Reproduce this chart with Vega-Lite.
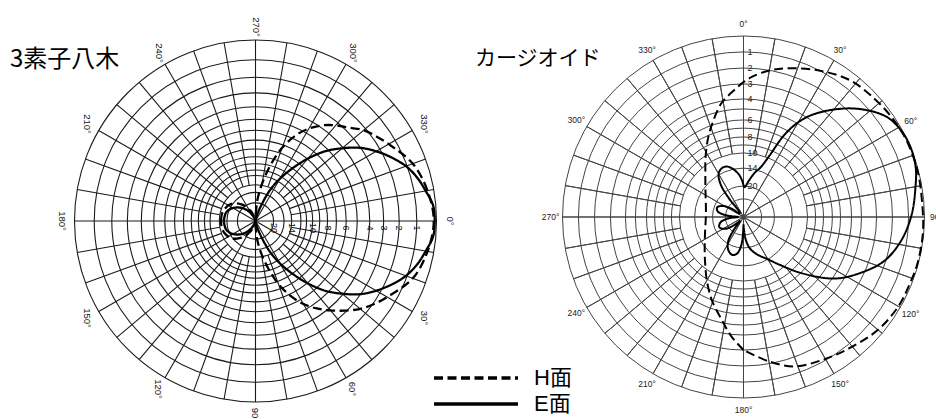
{
  "$schema": "https://vega.github.io/schema/vega-lite/v6.json",
  "padding": 0,
  "spacing": 0,
  "bounds": "flush",
  "background": "white",
  "config": {"view": {"stroke": null}},
  "datasets": {
    "ringsL": [{"r":1},{"r":0.891},{"r":0.794},{"r":0.708},{"r":0.631},{"r":0.562},{"r":0.501},{"r":0.447},{"r":0.398},{"r":0.355},{"r":0.316},{"r":0.282},{"r":0.251},{"r":0.2},{"r":0.158},{"r":0.1}],
    "ringsR": [{"r":1},{"r":0.912},{"r":0.823},{"r":0.735},{"r":0.652},{"r":0.597},{"r":0.536},{"r":0.491},{"r":0.442},{"r":0.398},{"r":0.354},{"r":0.27},{"r":0.171},{"r":0.1}],
    "dbL": [{"r":0.891,"label":"1"},{"r":0.794,"label":"2"},{"r":0.708,"label":"3"},{"r":0.631,"label":"4"},{"r":0.501,"label":"6"},{"r":0.398,"label":"8"},{"r":0.316,"label":"10"},{"r":0.2,"label":"14"},{"r":0.1,"label":"20"}],
    "dbR": [{"r":0.912,"label":"1"},{"r":0.823,"label":"2"},{"r":0.735,"label":"3"},{"r":0.652,"label":"4"},{"r":0.536,"label":"6"},{"r":0.442,"label":"8"},{"r":0.354,"label":"10"},{"r":0.27,"label":"14"},{"r":0.171,"label":"20"}],
    "spokesMajor": [{"ang":0},{"ang":30},{"ang":60},{"ang":90},{"ang":120},{"ang":150},{"ang":180},{"ang":210},{"ang":240},{"ang":270},{"ang":300},{"ang":330}],
    "spokesMinor": [{"ang":10},{"ang":20},{"ang":40},{"ang":50},{"ang":70},{"ang":80},{"ang":100},{"ang":110},{"ang":130},{"ang":140},{"ang":160},{"ang":170},{"ang":190},{"ang":200},{"ang":220},{"ang":230},{"ang":250},{"ang":260},{"ang":280},{"ang":290},{"ang":310},{"ang":320},{"ang":340},{"ang":350}],
    "angLabels": [{"ang":0,"label":"0°"},{"ang":30,"label":"30°"},{"ang":60,"label":"60°"},{"ang":90,"label":"90°"},{"ang":120,"label":"120°"},{"ang":150,"label":"150°"},{"ang":180,"label":"180°"},{"ang":210,"label":"210°"},{"ang":240,"label":"240°"},{"ang":270,"label":"270°"},{"ang":300,"label":"300°"},{"ang":330,"label":"330°"}],
    "patL": [
      {"plane":"E面","ang":-180,"r":0.175},{"plane":"E面","ang":-165,"r":0.17},{"plane":"E面","ang":-155,"r":0.155},{"plane":"E面","ang":-145,"r":0.13},{"plane":"E面","ang":-135,"r":0.1},{"plane":"E面","ang":-125,"r":0.065},{"plane":"E面","ang":-115,"r":0.03},{"plane":"E面","ang":-105,"r":0.01},{"plane":"E面","ang":-90,"r":0.0},{"plane":"E面","ang":-80,"r":0.01},{"plane":"E面","ang":-75,"r":0.035},{"plane":"E面","ang":-70,"r":0.09},{"plane":"E面","ang":-65,"r":0.185},{"plane":"E面","ang":-60,"r":0.27},{"plane":"E面","ang":-55,"r":0.355},{"plane":"E面","ang":-50,"r":0.45},{"plane":"E面","ang":-45,"r":0.545},{"plane":"E面","ang":-40,"r":0.625},{"plane":"E面","ang":-35,"r":0.705},{"plane":"E面","ang":-30,"r":0.77},{"plane":"E面","ang":-25,"r":0.83},{"plane":"E面","ang":-20,"r":0.885},{"plane":"E面","ang":-15,"r":0.925},{"plane":"E面","ang":-10,"r":0.955},{"plane":"E面","ang":-5,"r":0.985},{"plane":"E面","ang":0,"r":0.99},{"plane":"E面","ang":5,"r":0.985},{"plane":"E面","ang":10,"r":0.955},{"plane":"E面","ang":15,"r":0.925},{"plane":"E面","ang":20,"r":0.885},{"plane":"E面","ang":25,"r":0.83},{"plane":"E面","ang":30,"r":0.77},{"plane":"E面","ang":35,"r":0.705},{"plane":"E面","ang":40,"r":0.625},{"plane":"E面","ang":45,"r":0.545},{"plane":"E面","ang":50,"r":0.45},{"plane":"E面","ang":55,"r":0.355},{"plane":"E面","ang":60,"r":0.27},{"plane":"E面","ang":65,"r":0.185},{"plane":"E面","ang":70,"r":0.09},{"plane":"E面","ang":75,"r":0.035},{"plane":"E面","ang":80,"r":0.01},{"plane":"E面","ang":90,"r":0.0},{"plane":"E面","ang":105,"r":0.01},{"plane":"E面","ang":115,"r":0.03},{"plane":"E面","ang":125,"r":0.065},{"plane":"E面","ang":135,"r":0.1},{"plane":"E面","ang":145,"r":0.13},{"plane":"E面","ang":155,"r":0.155},{"plane":"E面","ang":165,"r":0.17},{"plane":"E面","ang":180,"r":0.175},
      {"plane":"H面","ang":-180,"r":0.19},{"plane":"H面","ang":-170,"r":0.19},{"plane":"H面","ang":-160,"r":0.185},{"plane":"H面","ang":-145,"r":0.165},{"plane":"H面","ang":-130,"r":0.12},{"plane":"H面","ang":-115,"r":0.06},{"plane":"H面","ang":-100,"r":0.02},{"plane":"H面","ang":-90,"r":0.03},{"plane":"H面","ang":-85,"r":0.115},{"plane":"H面","ang":-80,"r":0.21},{"plane":"H面","ang":-75,"r":0.32},{"plane":"H面","ang":-70,"r":0.43},{"plane":"H面","ang":-65,"r":0.52},{"plane":"H面","ang":-60,"r":0.59},{"plane":"H面","ang":-55,"r":0.645},{"plane":"H面","ang":-50,"r":0.69},{"plane":"H面","ang":-45,"r":0.73},{"plane":"H面","ang":-40,"r":0.78},{"plane":"H面","ang":-35,"r":0.815},{"plane":"H面","ang":-30,"r":0.85},{"plane":"H面","ang":-20,"r":0.925},{"plane":"H面","ang":-10,"r":0.965},{"plane":"H面","ang":0,"r":0.985},{"plane":"H面","ang":10,"r":0.965},{"plane":"H面","ang":20,"r":0.925},{"plane":"H面","ang":30,"r":0.84},{"plane":"H面","ang":35,"r":0.8},{"plane":"H面","ang":40,"r":0.755},{"plane":"H面","ang":45,"r":0.7},{"plane":"H面","ang":50,"r":0.645},{"plane":"H面","ang":55,"r":0.59},{"plane":"H面","ang":60,"r":0.53},{"plane":"H面","ang":65,"r":0.455},{"plane":"H面","ang":70,"r":0.37},{"plane":"H面","ang":75,"r":0.27},{"plane":"H面","ang":80,"r":0.18},{"plane":"H面","ang":85,"r":0.1},{"plane":"H面","ang":90,"r":0.03},{"plane":"H面","ang":100,"r":0.02},{"plane":"H面","ang":115,"r":0.06},{"plane":"H面","ang":130,"r":0.12},{"plane":"H面","ang":145,"r":0.165},{"plane":"H面","ang":160,"r":0.185},{"plane":"H面","ang":170,"r":0.19},{"plane":"H面","ang":180,"r":0.19}
    ],
    "patR": [
      {"plane":"E面","ang":-180,"r":0.04},{"plane":"E面","ang":-176,"r":0.15},{"plane":"E面","ang":-170,"r":0.205},{"plane":"E面","ang":-163,"r":0.218},{"plane":"E面","ang":-155,"r":0.2},{"plane":"E面","ang":-148,"r":0.16},{"plane":"E面","ang":-143,"r":0.09},{"plane":"E面","ang":-139,"r":0.03},{"plane":"E面","ang":-132,"r":0.06},{"plane":"E面","ang":-123,"r":0.12},{"plane":"E面","ang":-113,"r":0.145},{"plane":"E面","ang":-103,"r":0.13},{"plane":"E面","ang":-95,"r":0.08},{"plane":"E面","ang":-90,"r":0.03},{"plane":"E面","ang":-85,"r":0.09},{"plane":"E面","ang":-78,"r":0.145},{"plane":"E面","ang":-70,"r":0.155},{"plane":"E面","ang":-62,"r":0.13},{"plane":"E面","ang":-55,"r":0.08},{"plane":"E面","ang":-48,"r":0.03},{"plane":"E面","ang":-41,"r":0.03},{"plane":"E面","ang":-38,"r":0.13},{"plane":"E面","ang":-35,"r":0.22},{"plane":"E面","ang":-30,"r":0.275},{"plane":"E面","ang":-24,"r":0.295},{"plane":"E面","ang":-18,"r":0.293},{"plane":"E面","ang":-12,"r":0.27},{"plane":"E面","ang":-6,"r":0.235},{"plane":"E面","ang":-2,"r":0.2},{"plane":"E面","ang":2,"r":0.165},{"plane":"E面","ang":8,"r":0.2},{"plane":"E面","ang":14,"r":0.25},{"plane":"E面","ang":19,"r":0.29},{"plane":"E面","ang":23,"r":0.37},{"plane":"E面","ang":26,"r":0.49},{"plane":"E面","ang":29,"r":0.58},{"plane":"E面","ang":33,"r":0.665},{"plane":"E面","ang":40,"r":0.775},{"plane":"E面","ang":47,"r":0.875},{"plane":"E面","ang":55,"r":0.965},{"plane":"E面","ang":62,"r":0.995},{"plane":"E面","ang":68,"r":1.0},{"plane":"E面","ang":74,"r":0.99},{"plane":"E面","ang":80,"r":0.965},{"plane":"E面","ang":89,"r":0.93},{"plane":"E面","ang":98,"r":0.884},{"plane":"E面","ang":107,"r":0.818},{"plane":"E面","ang":115,"r":0.723},{"plane":"E面","ang":124,"r":0.608},{"plane":"E面","ang":134,"r":0.447},{"plane":"E面","ang":143,"r":0.33},{"plane":"E面","ang":150,"r":0.27},{"plane":"E面","ang":160,"r":0.22},{"plane":"E面","ang":168,"r":0.18},{"plane":"E面","ang":174,"r":0.13},{"plane":"E面","ang":178,"r":0.07},{"plane":"E面","ang":180,"r":0.04},
      {"plane":"H面","ang":-180,"r":0.735},{"plane":"H面","ang":-174,"r":0.66},{"plane":"H面","ang":-168,"r":0.58},{"plane":"H面","ang":-159,"r":0.49},{"plane":"H面","ang":-150,"r":0.405},{"plane":"H面","ang":-140,"r":0.33},{"plane":"H面","ang":-130,"r":0.28},{"plane":"H面","ang":-115,"r":0.235},{"plane":"H面","ang":-100,"r":0.213},{"plane":"H面","ang":-90,"r":0.208},{"plane":"H面","ang":-75,"r":0.215},{"plane":"H面","ang":-60,"r":0.242},{"plane":"H面","ang":-51,"r":0.271},{"plane":"H面","ang":-42,"r":0.315},{"plane":"H面","ang":-32,"r":0.395},{"plane":"H面","ang":-24,"r":0.48},{"plane":"H面","ang":-18,"r":0.55},{"plane":"H面","ang":-11,"r":0.64},{"plane":"H面","ang":-4,"r":0.705},{"plane":"H面","ang":0,"r":0.745},{"plane":"H面","ang":4,"r":0.78},{"plane":"H面","ang":10,"r":0.822},{"plane":"H面","ang":17,"r":0.86},{"plane":"H面","ang":28,"r":0.914},{"plane":"H面","ang":38,"r":0.958},{"plane":"H面","ang":48,"r":0.975},{"plane":"H面","ang":57,"r":0.988},{"plane":"H面","ang":65,"r":0.995},{"plane":"H面","ang":75,"r":0.995},{"plane":"H面","ang":85,"r":0.99},{"plane":"H面","ang":95,"r":0.995},{"plane":"H面","ang":105,"r":0.995},{"plane":"H面","ang":112,"r":0.99},{"plane":"H面","ang":120,"r":0.988},{"plane":"H面","ang":130,"r":0.97},{"plane":"H面","ang":140,"r":0.935},{"plane":"H面","ang":150,"r":0.905},{"plane":"H面","ang":161,"r":0.873},{"plane":"H面","ang":170,"r":0.81},{"plane":"H面","ang":180,"r":0.735}
    ]
  },
  "hconcat": [
    {
      "width": 511,
      "height": 442,
      "title": {"text": "3素子八木", "anchor": "start", "frame": "group", "orient": "top", "offset": -65, "dx": 10, "dy": 26, "baseline": "alphabetic", "font": "Noto Sans CJK JP", "fontSize": 24, "fontWeight": "normal", "color": "black"},
      "layer": [
        {
          "data": {"name": "ringsL"},
          "mark": {"type": "arc", "fill": null, "stroke": "#1a1a1a", "strokeWidth": 1.1},
          "encoding": {
            "theta": {"datum": 0, "type": "quantitative", "scale": {"domain": [0, 360], "range": [1.5708, 7.854]}},
            "theta2": {"datum": 360},
            "radius": {"field": "r", "type": "quantitative", "stack": null, "scale": {"type": "linear", "domain": [0, 1], "range": [0, 181], "zero": true}}
          }
        },
        {
          "data": {"name": "spokesMajor"},
          "mark": {"type": "arc", "fill": null, "stroke": "#1a1a1a", "strokeWidth": 1.1},
          "encoding": {
            "theta": {"field": "ang", "type": "quantitative", "stack": null},
            "theta2": {"field": "ang"},
            "radius": {"datum": 1, "type": "quantitative"},
            "radius2": {"datum": 0}
          }
        },
        {
          "data": {"name": "spokesMinor"},
          "mark": {"type": "arc", "fill": null, "stroke": "#1a1a1a", "strokeWidth": 1.1},
          "encoding": {
            "theta": {"field": "ang", "type": "quantitative", "stack": null},
            "theta2": {"field": "ang"},
            "radius": {"datum": 1, "type": "quantitative"},
            "radius2": {"datum": 0.2}
          }
        },
        {
          "data": {"name": "dbL"},
          "mark": {"type": "text", "angle": 90, "align": "center", "baseline": "middle", "dx": 7, "font": "Liberation Sans Narrow, Liberation Sans", "fontSize": 9, "color": "#111"},
          "encoding": {
            "theta": {"datum": 0, "type": "quantitative"},
            "radius": {"field": "r", "type": "quantitative", "stack": null},
            "text": {"field": "label"}
          }
        },
        {
          "data": {"name": "angLabels"},
          "mark": {"type": "text", "angle": 90, "align": "center", "baseline": "middle", "radiusOffset": 13, "font": "Liberation Sans Narrow, Liberation Sans", "fontSize": 9.5, "color": "#111"},
          "encoding": {
            "theta": {"field": "ang", "type": "quantitative", "stack": null},
            "radius": {"datum": 1, "type": "quantitative"},
            "text": {"field": "label"}
          }
        },
        {
          "data": {"name": "patL"},
          "transform": [
            {"calculate": "datum.r*cos(datum.ang*PI/180)", "as": "px"},
            {"calculate": "-datum.r*sin(datum.ang*PI/180)", "as": "py"}
          ],
          "mark": {"type": "line", "interpolate": "catmull-rom", "color": "black", "strokeWidth": 2.3},
          "encoding": {
            "x": {"field": "px", "type": "quantitative", "scale": {"domain": [-1.4116, 1.4116], "nice": false, "zero": false}, "axis": null},
            "y": {"field": "py", "type": "quantitative", "scale": {"domain": [-1.221, 1.221], "nice": false, "zero": false}, "axis": null},
            "order": {"field": "ang", "type": "quantitative"},
            "strokeDash": {
              "field": "plane", "type": "nominal",
              "scale": {"domain": ["H面", "E面"], "range": [[9, 4.5], [1, 0]]},
              "legend": {"title": null, "orient": "none", "legendX": 465, "legendY": 367, "symbolType": "M-6,0H6", "symbolSize": 196, "symbolStrokeWidth": 3.5, "symbolStrokeColor": "black", "symbolFillColor": "transparent", "labelFont": "Liberation Sans, Noto Sans CJK JP", "labelFontSize": 22, "labelColor": "black", "labelOffset": 47, "rowPadding": 4, "labelLimit": 300}
            }
          }
        }
      ]
    },
    {
      "width": 465,
      "height": 434,
      "title": {"text": "カージオイド", "anchor": "start", "frame": "group", "orient": "top", "offset": -66, "dx": -36, "dy": 20, "baseline": "alphabetic", "font": "Noto Sans CJK JP", "fontSize": 21, "fontWeight": "normal", "color": "black"},
      "layer": [
        {
          "data": {"name": "ringsR"},
          "mark": {"type": "arc", "fill": null, "stroke": "#444", "strokeWidth": 1},
          "encoding": {
            "theta": {"datum": 0, "type": "quantitative", "scale": {"domain": [0, 360], "range": [0, 6.2832]}},
            "theta2": {"datum": 360},
            "radius": {"field": "r", "type": "quantitative", "stack": null, "scale": {"type": "linear", "domain": [0, 1], "range": [0, 181], "zero": true}}
          }
        },
        {
          "data": {"name": "spokesMajor"},
          "mark": {"type": "arc", "fill": null, "stroke": "#444", "strokeWidth": 1},
          "encoding": {
            "theta": {"field": "ang", "type": "quantitative", "stack": null},
            "theta2": {"field": "ang"},
            "radius": {"datum": 1, "type": "quantitative"},
            "radius2": {"datum": 0}
          }
        },
        {
          "data": {"name": "spokesMinor"},
          "mark": {"type": "arc", "fill": null, "stroke": "#444", "strokeWidth": 1},
          "encoding": {
            "theta": {"field": "ang", "type": "quantitative", "stack": null},
            "theta2": {"field": "ang"},
            "radius": {"datum": 1, "type": "quantitative"},
            "radius2": {"datum": 0.354}
          }
        },
        {
          "data": {"name": "dbR"},
          "mark": {"type": "text", "align": "left", "baseline": "middle", "dx": 4, "font": "Liberation Sans", "fontSize": 9, "color": "#222"},
          "encoding": {
            "theta": {"datum": 0, "type": "quantitative"},
            "radius": {"field": "r", "type": "quantitative", "stack": null},
            "text": {"field": "label"}
          }
        },
        {
          "data": {"name": "angLabels"},
          "mark": {"type": "text", "align": "center", "baseline": "middle", "radiusOffset": 12, "font": "Liberation Sans", "fontSize": 8.5, "color": "#222"},
          "encoding": {
            "theta": {"field": "ang", "type": "quantitative", "stack": null},
            "radius": {"datum": 1, "type": "quantitative"},
            "text": {"field": "label"}
          }
        },
        {
          "data": {"name": "patR"},
          "transform": [
            {"calculate": "datum.r*sin(datum.ang*PI/180)", "as": "px"},
            {"calculate": "datum.r*cos(datum.ang*PI/180)", "as": "py"}
          ],
          "mark": {"type": "line", "interpolate": "catmull-rom", "color": "black", "strokeWidth": 2},
          "encoding": {
            "x": {"field": "px", "type": "quantitative", "scale": {"domain": [-1.2845, 1.2845], "nice": false, "zero": false}, "axis": null},
            "y": {"field": "py", "type": "quantitative", "scale": {"domain": [-1.1989, 1.1989], "nice": false, "zero": false}, "axis": null},
            "order": {"field": "ang", "type": "quantitative"},
            "strokeDash": {
              "field": "plane", "type": "nominal",
              "scale": {"domain": ["H面", "E面"], "range": [[9, 4.5], [1, 0]]},
              "legend": {"title": null, "orient": "none", "legendX": 465, "legendY": 367, "symbolType": "M-6,0H6", "symbolSize": 196, "symbolStrokeWidth": 3.5, "symbolStrokeColor": "black", "symbolFillColor": "transparent", "labelFont": "Liberation Sans, Noto Sans CJK JP", "labelFontSize": 22, "labelColor": "black", "labelOffset": 47, "rowPadding": 4, "labelLimit": 300}
            }
          }
        }
      ]
    }
  ]
}
